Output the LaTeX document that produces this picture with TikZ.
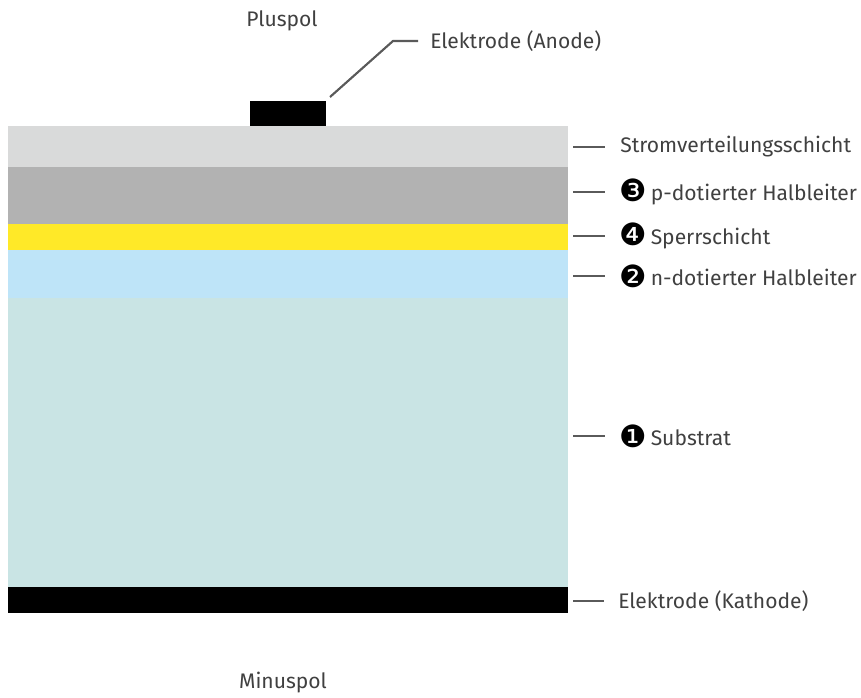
\documentclass[tikz,border=0pt]{standalone}
\usepackage{fontspec}
\setmainfont{Fira Sans}
\newfontfamily\dingfont{DejaVu Sans}
\usetikzlibrary{positioning, calc}

\definecolor{schichtgrau}{RGB}{217,218,218}
\definecolor{pgrau}{RGB}{178,178,178}
\definecolor{sperrgelb}{RGB}{255,233,40}
\definecolor{nblau}{RGB}{190,228,248}
\definecolor{substrat}{RGB}{201,228,228}
\definecolor{textgrau}{RGB}{64,64,64}
\definecolor{liniengrau}{RGB}{90,90,90}

% circled number in front of a label
\newcommand{\nrsym}[1]{\raisebox{-1pt}{\color{black}\dingfont\fontsize{23}{18}\selectfont #1}\hspace{3pt}}

\begin{document}
\begin{tikzpicture}[
    x=0.75pt, y=-0.75pt,
    font=\fontsize{15.8}{18}\selectfont,
    % Styles
    layer/.style={
        rectangle, inner sep=0pt, outer sep=0pt, minimum width=560*0.75pt
    },
    electrode/.style={
        rectangle, fill=black, inner sep=0pt, outer sep=0pt
    },
    lbl/.style={text=textgrau, inner sep=0pt, anchor=west},
    pol/.style={text=textgrau, inner sep=0pt},
    leader/.style={draw=liniengrau, line width=1.6pt}
]
    \useasboundingbox (0,0) rectangle (861,698);

    % --- LAYER STACK ---
    \node[layer, fill=schichtgrau, minimum height=41*0.75pt, anchor=north west] (strom) at (8,126) {};
    \node[layer, fill=pgrau, minimum height=57*0.75pt, below=0pt of strom] (pschicht) {};
    \node[layer, fill=sperrgelb, minimum height=26*0.75pt, below=0pt of pschicht] (sperr) {};
    \node[layer, fill=nblau, minimum height=48*0.75pt, below=0pt of sperr] (nschicht) {};
    \node[layer, fill=substrat, minimum height=289*0.75pt, below=0pt of nschicht] (subst) {};
    \node[layer, electrode, minimum height=26*0.75pt, below=0pt of subst] (kathode) {};

    % Anode on top
    \node[electrode, minimum width=76*0.75pt, minimum height=25*0.75pt, anchor=south west] (anode) at (250,126) {};

    % --- LABELS ---
    \node[pol] (plus) at (282,21) {Pluspol};
    \node[pol] (minus) at (283,683) {Minuspol};
    \node[lbl] (lanode) at (430,41) {Elektrode (Anode)};

    \node[lbl] (lstrom) at (620,147) {Stromverteilungsschicht};
    \node[lbl] (lp) at (619,192) {\nrsym{❸}p-dotierter Halbleiter};
    \node[lbl] (lsperr) at (619,236) {\nrsym{❹}Sperrschicht};
    \node[lbl] (ln) at (619,276) {\nrsym{❷}n-dotierter Halbleiter};
    \node[lbl] (lsubst) at (619,436) {\nrsym{❶}Substrat};
    \node[lbl] (lkathode) at (618,601) {Elektrode (Kathode)};

    % --- CONNECTIONS ---
    \draw[leader] ($(anode.north east)+(4,-4)$) -- ($(lanode.west)+(-37,0)$) -- ($(lanode.west)+(-12,0)$);

    \draw[leader] ($(lstrom.west -| strom.east)+(5,0)$) -- ($(lstrom.west)+(-15,0)$);
    \draw[leader] ($(lp.west -| pschicht.east)+(5,0)$) -- ($(lp.west)+(-14,0)$);
    \draw[leader] ($(lsperr.west -| sperr.east)+(5,0)$) -- ($(lsperr.west)+(-14,0)$);
    \draw[leader] ($(ln.west -| nschicht.east)+(5,0)$) -- ($(ln.west)+(-14,0)$);
    \draw[leader] ($(lsubst.west -| subst.east)+(5,0)$) -- ($(lsubst.west)+(-14,0)$);
    \draw[leader] ($(lkathode.west -| kathode.east)+(5,0)$) -- ($(lkathode.west)+(-14,0)$);

\end{tikzpicture}
\end{document}
